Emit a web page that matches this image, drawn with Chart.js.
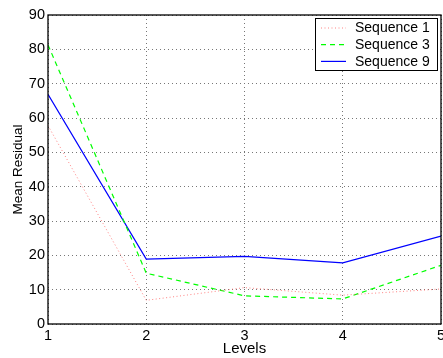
<!DOCTYPE html>
<html>
<head>
<meta charset="utf-8">
<script src="https://cdn.jsdelivr.net/npm/chart.js@4/dist/chart.umd.min.js"></script>
<style>
  html, body { margin: 0; padding: 0; background: #fff; }
  #wrap { width: 443px; height: 358px; position: relative; }
</style>
</head>
<body>
<div id="wrap"><canvas id="chart" width="443" height="358"></canvas></div>
<script>
// levels on the x axis
const levels = [1, 2, 3, 4, 5];
// mean residual per sequence
const seq1 = [57.8, 6.9, 10.6, 8.4, 10.2];
const seq3 = [81.3, 14.8, 8.2, 7.3, 17.1];
const seq9 = [66.9, 18.9, 19.7, 17.8, 25.6];
const yTicks = [0, 10, 20, 30, 40, 50, 60, 70, 80, 90];

const toPoints = (vals) => vals.map((v, i) => ({ x: levels[i], y: v }));
const fam = '"Liberation Sans", Arial, sans-serif';
const tickFont = { family: fam, size: 14.5 };

// black box round the plot area
const frame = {
  id: 'frame',
  afterDraw(chart) {
    const { ctx, chartArea: a } = chart;
    ctx.save();
    ctx.strokeStyle = '#000';
    ctx.lineWidth = 1.3;
    ctx.strokeRect(a.left, a.top, a.right - a.left, a.bottom - a.top);
    ctx.restore();
  }
};

// matlab style legend, top right inside the axes
const boxLegend = {
  id: 'boxLegend',
  afterDraw(chart) {
    const { ctx } = chart;
    const x0 = 315, y0 = 18, w = 122, rowH = 16.7;
    const sets = chart.data.datasets;
    const h = 52;
    ctx.save();
    ctx.fillStyle = '#fff';
    ctx.fillRect(x0, y0, w, h);
    ctx.strokeStyle = '#000';
    ctx.lineWidth = 1;
    ctx.strokeRect(x0 + 0.5, y0 + 0.5, w, h);
    ctx.font = '14px ' + fam;
    ctx.textBaseline = 'middle';
    sets.forEach((ds, i) => {
      const y = y0 + 9.5 + i * rowH;
      ctx.strokeStyle = ds.borderColor;
      ctx.lineWidth = ds.borderWidth;
      ctx.setLineDash(ds.borderDash || []);
      ctx.beginPath();
      ctx.moveTo(x0 + 6, y + 0.5);
      ctx.lineTo(x0 + 31, y + 0.5);
      ctx.stroke();
      ctx.setLineDash([]);
      ctx.fillStyle = '#000';
      ctx.fillText(ds.label, x0 + 40, y + 1);
    });
    ctx.restore();
  }
};

new Chart(document.getElementById('chart'), {
  type: 'line',
  data: {
    datasets: [
      { label: 'Sequence 1', data: toPoints(seq1), borderColor: 'rgba(255,90,90,0.75)', borderWidth: 1, borderDash: [1, 2.5] },
      { label: 'Sequence 3', data: toPoints(seq3), borderColor: '#00ff00', borderWidth: 1.2, borderDash: [5, 4] },
      { label: 'Sequence 9', data: toPoints(seq9), borderColor: '#0000ff', borderWidth: 1.2 }
    ]
  },
  options: {
    responsive: false,
    animation: false,
    devicePixelRatio: 1,
    elements: { point: { radius: 0 }, line: { tension: 0 } },
    layout: { padding: { top: 15, right: 2, left: 0, bottom: 0 }, autoPadding: false },
    plugins: { legend: { display: false }, tooltip: { enabled: false } },
    scales: {
      x: {
        type: 'linear',
        min: 1,
        max: 5,
        afterFit: (s) => { s.height = 34; s.paddingLeft = 0; s.paddingRight = 0; },
        afterBuildTicks: (s) => { s.ticks = levels.map(v => ({ value: v })); },
        ticks: { font: tickFont, color: '#000', padding: 3, maxRotation: 0, autoSkip: false },
        grid: { color: '#777', lineWidth: 1, drawTicks: false },
        border: { display: false, dash: [1, 3] },
        title: { display: true, text: 'Levels', font: { family: fam, size: 15 }, color: '#000', padding: 0 }
      },
      y: {
        min: 0,
        max: 90,
        afterFit: (s) => { s.width = 48; s.paddingTop = 0; s.paddingBottom = 0; },
        afterBuildTicks: (s) => { s.ticks = yTicks.map(v => ({ value: v })); },
        ticks: { font: tickFont, color: '#000', padding: 3, autoSkip: false },
        grid: { color: '#777', lineWidth: 1, drawTicks: false },
        border: { display: false, dash: [1, 3] },
        title: { display: true, text: 'Mean Residual', font: { family: fam, size: 13.5 }, color: '#000', padding: { top: 10, bottom: 0 } }
      }
    }
  },
  plugins: [frame, boxLegend]
});
</script>
</body>
</html>
